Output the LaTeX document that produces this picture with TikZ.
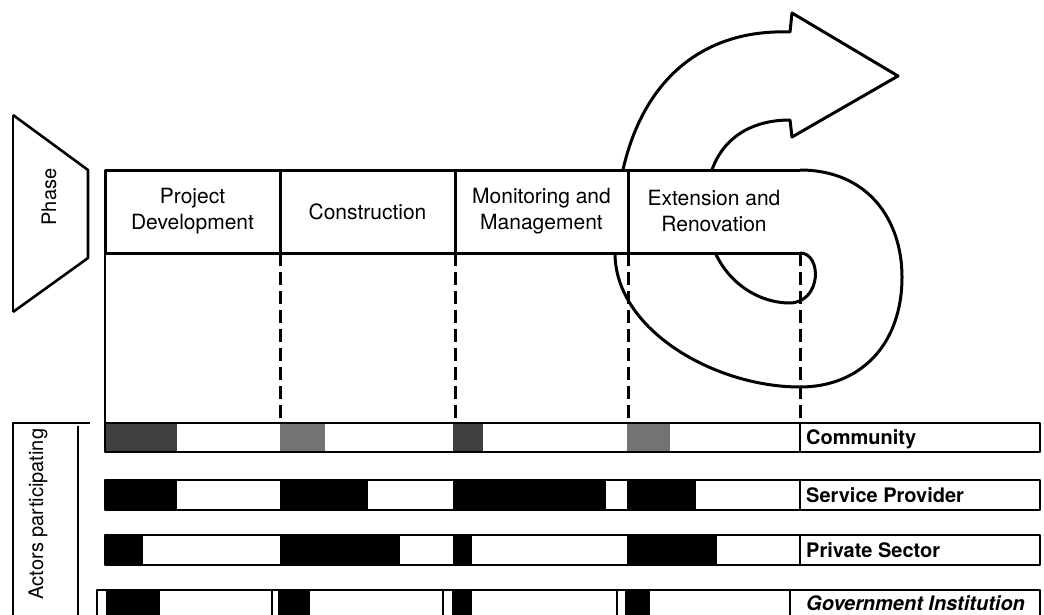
\documentclass[tikz,border=0pt]{standalone}
\usepackage{fontspec}
\setmainfont{TeX Gyre Heros}
\usetikzlibrary{positioning}

\begin{document}
\begin{tikzpicture}[x=1pt, y=-1pt, line join=round,
  hcell/.style={draw, line width=3pt, fill=white, outer sep=0pt, inner sep=0pt, align=center, minimum height=83pt, font=\fontsize{21}{26}\selectfont},
  rowbox/.style={draw, line width=2pt, outer sep=0pt, inner sep=0pt},
  rowlabel/.style={anchor=base west, inner sep=0pt, font=\fontsize{20}{24}\selectfont\bfseries},
  blk/.style={fill=black},
  gdark/.style={fill=black!75},
  glight/.style={fill=black!55},
  guide/.style={dash pattern=on 13pt off 6pt, line width=3pt},
  side/.style={font=\fontsize{20}{24}\selectfont, rotate=90, inner sep=0pt}]

\useasboundingbox (0,0) rectangle (1044,615);
\clip (0,0) rectangle (1044,615);

% spiral arrow round the last phase
\draw[line width=3pt] (800,170) .. controls (868,170) and (902,220) .. (902,277)
  .. controls (902,345) and (860,387) .. (800,387)
  .. controls (715,387) and (615,330) .. (615,253)
  .. controls (613,110) and (680,28) .. (790,32)
  -- (792,13) -- (898,76) -- (792,137) -- (790,120)
  .. controls (740,120) and (705,150) .. (706,210)
  .. controls (707,270) and (750,303) .. (790,303)
  .. controls (822,302) and (822,253) .. (800,253);

% phase header
\node[hcell, minimum width=175pt] (pd) at (192.5,211.5) {Project\\Development};
\node[hcell, minimum width=175pt] (con) at (367.5,211.5) {Construction};
\node[hcell, minimum width=173pt] (mm) at (541.5,211.5) {Monitoring and\\Management};
\node[hcell, draw=none, minimum width=172pt] (er) at (714,211.5) {Extension and\\Renovation};
\draw[line width=3pt] (er.north east) -- (er.north west) -- (er.south west) -- (er.south east);

\draw[line width=2.6pt] (13,115) -- (88,170) -- (88,258) -- (13,312);
\draw[line width=1.2pt] (13,115) -- (13,312);
\node[side] (phase) at (49,197) {Phase};

% actor bars
\foreach \a/\b in {105/177, 453/483} \fill[gdark] (\a,423) rectangle (\b,452);
\foreach \a/\b in {280/325, 627/670} \fill[glight] (\a,423) rectangle (\b,452);
\foreach \a/\b in {105/177, 280/368, 453/606, 627/696} \fill[blk] (\a,480) rectangle (\b,510);
\foreach \a/\b in {105/143, 280/400, 453/472, 627/717} \fill[blk] (\a,535) rectangle (\b,565);
\foreach \a/\b in {106/160, 278/310, 452/472, 625/650} \fill[blk] (\a,590) rectangle (\b,630);

\node[rowbox, minimum width=935pt, minimum height=29pt] (r1) at (572.5,437.5) {};
\node[rowbox, minimum width=935pt, minimum height=30pt] (r2) at (572.5,495) {};
\node[rowbox, minimum width=935pt, minimum height=30pt] (r3) at (572.5,550) {};
\node[rowbox, minimum width=943pt, minimum height=50pt] (r4) at (568.5,615) {};

\foreach \r in {r1, r2, r3}
  \draw[line width=2pt] (er.south east |- \r.north) -- (er.south east |- \r.south);
\foreach \x in {272, 443, 617, 790} \draw[line width=1.4pt] (\x,590) -- (\x,620);

\node[rowlabel] (comm) at (806,444.5) {Community};
\node[rowlabel] (serv) at (806,502) {Service Provider};
\node[rowlabel] (priv) at (806,557) {Private Sector};
\node[rowlabel, font=\fontsize{20}{24}\selectfont\bfseries\itshape] (gov) at (806,610) {Government Institution};

% phase boundaries down to the bars
\draw[line width=2.6pt] (pd.south west) -- (pd.south west |- r1.north);
\foreach \c in {pd, con, mm, er}
  \draw[guide] (\c.south east) -- (\c.south east |- r1.north);

\draw[line width=2.4pt] (90,423) -- (13,423) -- (13,620);
\draw[line width=1.4pt] (78,426) -- (78,620);
\node[side] (actors) at (38,514) {Actors participating};
\end{tikzpicture}
\end{document}
